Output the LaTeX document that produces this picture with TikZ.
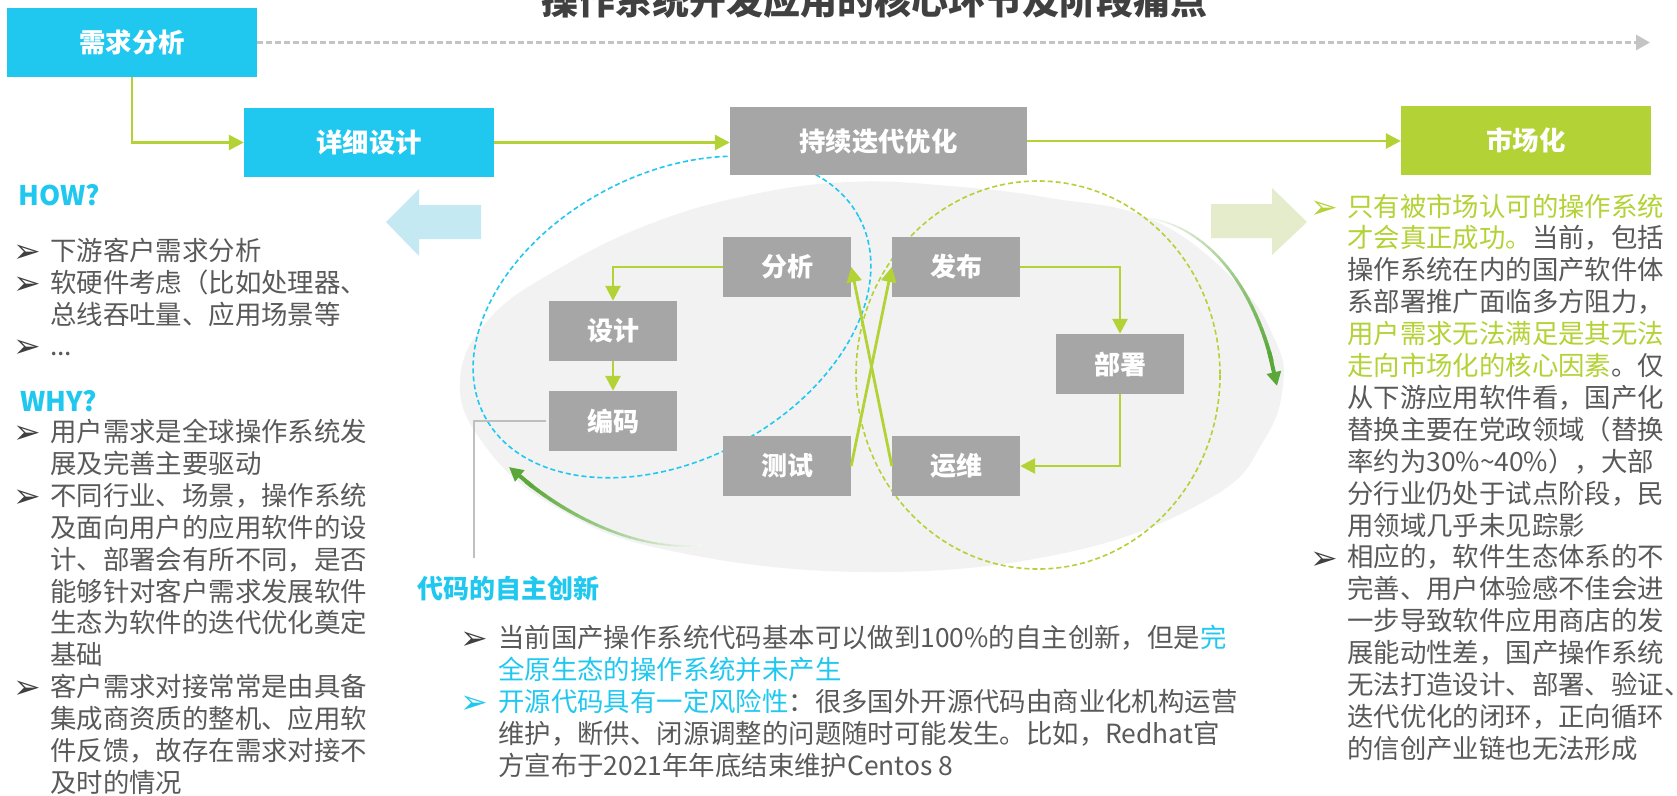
\documentclass[tikz,border=0pt]{standalone}
\usepackage{fontspec}
\setmainfont{Noto Sans CJK SC}
\newfontfamily\symfont{DejaVu Sans}
\usetikzlibrary{arrows.meta,shapes.geometric}
\definecolor{cyanbox}{HTML}{20C8F0}
\definecolor{olive}{HTML}{B2D235}
\definecolor{boxgray}{HTML}{A6A6A6}
\definecolor{txtgray}{HTML}{595959}
\definecolor{titlegray}{HTML}{404040}
\definecolor{bggray}{HTML}{F2F2F2}
\definecolor{lightblue}{HTML}{C5E9F3}
\definecolor{lightolive}{HTML}{E5ECCB}
\definecolor{dashgray}{HTML}{C4C4C4}
\definecolor{dkgreen}{HTML}{5BA83A}
\definecolor{leadgray}{HTML}{BFBFBF}
\begin{document}
\begin{tikzpicture}[x=1pt,y=-1pt,
  bigbox/.style={minimum width=250pt, minimum height=69pt, inner sep=0pt, text=white, font=\fontsize{26.4}{30}\selectfont\bfseries},
  smallbox/.style={fill=boxgray, minimum width=128pt, minimum height=60pt, inner sep=0pt, text=white, font=\fontsize{26}{30}\selectfont\bfseries},
  conn/.style={draw=olive, line width=2.8pt, -{Triangle[length=15pt,width=15pt]}},
  dsh/.style={line width=1.6pt, dash pattern=on 5pt off 3pt},
  tx/.style={anchor=base west, inner sep=0pt, text=txtgray, font=\fontsize{26.4}{31.9}\selectfont},
  hd/.style={anchor=base west, inner sep=0pt, text=cyanbox, font=\fontsize{27}{30}\selectfont\bfseries},
  bul/.style={anchor=base west, inner sep=0pt, text=titlegray, yshift=-2.5pt, font=\symfont\fontsize{33}{34}\selectfont},
]
\useasboundingbox (0,0) rectangle (1677,795);
\fill[white] (0,0) rectangle (1677,795);

% background egg shape
\fill[bggray] plot[smooth cycle, tension=0.7] coordinates {(460,380) (490,318) (560,268) (650,224) (750,195) (850,182) (950,186) (1050,198) (1153,220) (1237,283) (1275,340) (1283,385) (1264,440) (1212,497) (1069,552) (868,572) (667,550) (552,505) (483,443)};

% big light arrows
\fill[lightblue] (386,222) -- (419,189) -- (419,205) -- (481,205) -- (481,239) -- (419,239) -- (419,256) -- cycle;
\fill[lightolive] (1307,222) -- (1272,188) -- (1272,204) -- (1211,204) -- (1211,238) -- (1272,238) -- (1272,255) -- cycle;

% gradient arcs
\coordinate (la0) at (702,545);
\coordinate (la1) at (640,552);
\coordinate (la2) at (565,518);
\coordinate (la3) at (509,467);
\foreach \i in {0,...,30}{\pgfmathsetmacro\tt{\i/30}\path (la0) .. controls (la1) and (la2) .. (la3) coordinate[pos=\tt] (lp\i);}
\foreach \i in {1,...,27}{
  \pgfmathtruncatemacro\j{\i-1}
  \pgfmathtruncatemacro\c{5+95*\i/27}
  \pgfmathsetlengthmacro\w{1.2pt+2.8pt*\i/27}
  \draw[draw=dkgreen!\c!white, line width=\w, line cap=round] (lp\j) -- (lp\i);
}
\draw[dkgreen, line width=4pt, -{Triangle[length=14pt,width=14pt]}] (lp26) -- (lp30);

\coordinate (ra0) at (1148,218);
\coordinate (ra1) at (1215,228);
\coordinate (ra2) at (1262,300);
\coordinate (ra3) at (1277,386);
\foreach \i in {0,...,30}{\pgfmathsetmacro\tt{\i/30}\path (ra0) .. controls (ra1) and (ra2) .. (ra3) coordinate[pos=\tt] (rp\i);}
\foreach \i in {1,...,27}{
  \pgfmathtruncatemacro\j{\i-1}
  \pgfmathtruncatemacro\c{3+97*\i/27}
  \pgfmathsetlengthmacro\w{1.2pt+2.8pt*\i/27}
  \draw[draw=dkgreen!\c!white, line width=\w, line cap=round] (rp\j) -- (rp\i);
}
\draw[dkgreen, line width=4pt, -{Triangle[length=14pt,width=14pt]}] (rp26) -- (rp30);

% dashed ellipses
\draw[cyanbox, dsh, rotate around={28:(672,317)}] (672,317) ellipse [x radius=212, y radius=143];
\draw[olive, dsh] (1038,375) ellipse [x radius=182, y radius=194];

% title
\node[font=\fontsize{37}{40}\selectfont\bfseries, text=titlegray, inner sep=0pt, anchor=base] (title) at (874,14) {操作系统开发应用的核心环节及阶段痛点};

% top boxes
\node[bigbox, fill=cyanbox] (req) at (132,42.5) {需求分析};
\node[bigbox, fill=cyanbox] (det) at (369,142.5) {详细设计};
\node[bigbox, fill=boxgray, minimum width=297pt, minimum height=68pt] (iter) at (878.5,141) {持续迭代优化};
\node[bigbox, fill=olive] (mkt) at (1526,140.5) {市场化};

\coordinate (dend) at (1650,42.5);
\draw[dashgray, line width=3pt, dash pattern=on 6pt off 3pt, -{Triangle[length=14pt,width=15pt]}] (req.east) -- (dend);
\draw[conn] (req.south) |- (det.west);
\draw[conn] (det.east) -- (det.east -| iter.west);
\draw[conn] (iter.east) -- (iter.east -| mkt.west);

% center boxes
\node[smallbox] (ana) at (787,267) {分析};
\node[smallbox] (des) at (613,331) {设计};
\node[smallbox] (cod) at (613,421) {编码};
\node[smallbox] (tst) at (787,466) {测试};
\node[smallbox] (rel) at (956,267) {发布};
\node[smallbox] (dep) at (1120,364) {部署};
\node[smallbox] (ops) at (956,466) {运维};

\draw[conn] (ana.west) -| (des.north);
\draw[conn] (des.south) -- (cod.north);
\draw[conn] (tst.east) -- (rel.west);
\draw[conn] (ops.west) -- (ana.east);
\draw[conn] (rel.east) -| (dep.north);
\draw[conn] (dep.south) |- (ops.east);

\coordinate (lead) at (474,558);
\draw[leadgray, line width=1.6pt] ([xshift=-3pt]cod.west) -| (lead);

% left column
\node[hd] (how) at (18,205) {HOW?};
\node[bul] (hb1) at (13,260) {➢}; \node[tx] (h1) at (50,260) {下游客户需求分析};
\node[bul] (hb2) at (13,292) {➢}; \node[tx] (h2) at (50,292) {软硬件考虑（比如处理器、};
\node[tx] (h3) at (50,324) {总线吞吐量、应用场景等};
\node[bul] (hb3) at (13,355) {➢}; \node[tx] (h4) at (50,355) {...};
\node[hd] (why) at (20,411) {WHY?};
\node[bul] (wb1) at (13,441) {➢}; \node[tx] (w1) at (50,441) {用户需求是全球操作系统发};
\node[tx] (w2) at (50,473) {展及完善主要驱动};
\node[bul] (wb2) at (13,505) {➢}; \node[tx] (w3) at (50,505) {不同行业、场景，操作系统};
\node[tx] (w4) at (50,537) {及面向用户的应用软件的设};
\node[tx] (w5) at (50,569) {计、部署会有所不同，是否};
\node[tx] (w6) at (50,601) {能够针对客户需求发展软件};
\node[tx] (w7) at (50,632) {生态为软件的迭代优化奠定};
\node[tx] (w8) at (50,664) {基础};
\node[bul] (wb3) at (13,696) {➢}; \node[tx] (w9) at (50,696) {客户需求对接常常是由具备};
\node[tx] (w10) at (50,728) {集成商资质的整机、应用软};
\node[tx] (w11) at (50,760) {件反馈，故存在需求对接不};
\node[tx] (w12) at (50,792) {及时的情况};

% right column
\node[bul, text=olive] (rb1) at (1310,216) {➢};
\node[tx] (r0) at (1347,216) {\color{olive}只有被市场认可的操作系统};
\node[tx] (r1) at (1347,247.9) {{\color{olive}才会真正成功。}当前，包括};
\node[tx] (r2) at (1347,279.8) {操作系统在内的国产软件体};
\node[tx] (r3) at (1347,311.7) {系部署推广面临多方阻力，};
\node[tx] (r4) at (1347,343.6) {\color{olive}用户需求无法满足是其无法};
\node[tx] (r5) at (1347,375.5) {{\color{olive}走向市场化的核心因素}。仅};
\node[tx] (r6) at (1347,407.4) {从下游应用软件看，国产化};
\node[tx] (r7) at (1347,439.3) {替换主要在党政领域（替换};
\node[tx] (r8) at (1347,471.2) {率约为30\%\textasciitilde40\%），大部};
\node[tx] (r9) at (1347,503.1) {分行业仍处于试点阶段，民};
\node[tx] (r10) at (1347,535) {用领域几乎未见踪影};
\node[bul] (rb2) at (1310,566.9) {➢};
\node[tx] (r11) at (1347,566.9) {相应的，软件生态体系的不};
\node[tx] (r12) at (1347,598.8) {完善、用户体验感不佳会进};
\node[tx] (r13) at (1347,630.7) {一步导致软件应用商店的发};
\node[tx] (r14) at (1347,662.6) {展能动性差，国产操作系统};
\node[tx] (r15) at (1347,694.5) {无法打造设计、部署、验证\makebox[0.45em][l]{、}};
\node[tx] (r16) at (1347,726.4) {迭代优化的闭环，正向循环};
\node[tx] (r17) at (1347,758.3) {的信创产业链也无法形成};

% bottom block
\node[hd, font=\fontsize{26}{30}\selectfont\bfseries] (code) at (417,598) {代码的自主创新};
\node[bul] (bb1) at (460,647) {➢};
\node[tx] (b1) at (498,647) {当前国产操作系统代码基本可以做到100\%的自主创新，但是{\color{cyanbox}完}};
\node[tx] (b2) at (498,679) {\color{cyanbox}全原生态的操作系统并未产生};
\node[bul, text=cyanbox] (bb2) at (460,711) {➢};
\node[tx] (b3) at (498,711) {{\color{cyanbox}开源代码具有一定风险性}：很多国外开源代码由商业化机构运营};
\node[tx] (b4) at (498,743) {维护，断供、闭源调整的问题随时可能发生。比如，Redhat官};
\node[tx] (b5) at (498,775) {方宣布于2021年年底结束维护Centos 8};
\end{tikzpicture}
\end{document}
